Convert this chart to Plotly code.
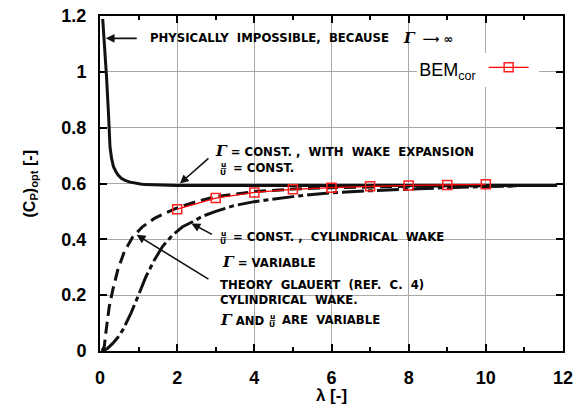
import plotly.graph_objects as go

# Tip speed ratio (lambda) and optimum power coefficient curves
lam_wake_exp = [0.07, 0.12, 0.17, 0.22, 0.26, 0.30, 0.35, 0.41, 0.47, 0.56, 0.65, 0.78,
                0.91, 1.05, 1.17, 1.5, 2.0, 4.0, 6.0, 8.0, 10.0, 11.85]
cp_wake_exp = [1.19, 1.09, 0.98, 0.85, 0.73, 0.69, 0.66, 0.643, 0.63, 0.618, 0.611, 0.605,
               0.601, 0.598, 0.596, 0.594, 0.593, 0.593, 0.593, 0.593, 0.593, 0.593]

lam_glauert = [0.05, 0.11, 0.16, 0.24, 0.33, 0.46, 0.63, 0.85, 1.1, 1.41, 1.71, 1.97,
               2.49, 3.0, 4.0, 5.0, 6.0, 7.0, 8.0, 9.0, 10.0, 10.8]
cp_glauert = [0.0, 0.015, 0.075, 0.159, 0.218, 0.29, 0.356, 0.409, 0.445, 0.475, 0.495, 0.511,
              0.535, 0.553, 0.571, 0.580, 0.585, 0.588, 0.590, 0.591, 0.592, 0.592]

lam_cyl = [0.07, 0.2, 0.33, 0.46, 0.59, 0.8, 0.98, 1.19, 1.41, 1.62, 1.88, 2.14, 2.4,
           2.66, 3.0, 3.45, 4.0, 4.5, 5.0, 5.5, 6.0, 7.0, 8.0, 9.0, 10.0, 10.8]
cp_cyl = [0.0, 0.01, 0.027, 0.048, 0.075, 0.135, 0.194, 0.266, 0.326, 0.374, 0.415, 0.445, 0.463,
          0.483, 0.50, 0.52, 0.535, 0.545, 0.553, 0.561, 0.567, 0.574, 0.580, 0.585, 0.589, 0.591]

lam_bem = [2, 3, 4, 5, 6, 7, 8, 9, 10]
cp_bem = [0.508, 0.548, 0.568, 0.579, 0.585, 0.590, 0.593, 0.595, 0.597]

x_ticks = [0, 2, 4, 6, 8, 10, 12]
y_ticks = [0, 0.2, 0.4, 0.6, 0.8, 1.0, 1.2]
x_range = [x_ticks[0], x_ticks[-1]]
y_range = [y_ticks[0], y_ticks[-1]]

fig = go.Figure()

fig.add_trace(go.Scatter(x=lam_wake_exp, y=cp_wake_exp, mode="lines", showlegend=False,
                         line=dict(color="#111111", width=3)))
fig.add_trace(go.Scatter(x=lam_glauert, y=cp_glauert, mode="lines", showlegend=False,
                         line=dict(color="#111111", width=3, dash="12px,6px")))
fig.add_trace(go.Scatter(x=lam_cyl, y=cp_cyl, mode="lines", showlegend=False,
                         line=dict(color="#111111", width=3, dash="22px,4px,5px,4px")))
fig.add_trace(go.Scatter(x=lam_bem, y=cp_bem, mode="lines+markers", name="",
                         line=dict(color="#ff0000", width=1.3),
                         marker=dict(symbol="square-open", size=9, color="#ff2020",
                                     line=dict(width=1.5, color="#ff2020"))))

TXT = dict(family="DejaVu Sans", size=11.7, color="black", weight="bold")
GAM = '<span style="font-family:\'DejaVu Serif\';font-size:15px;font-weight:bold"><i>Γ</i></span>'
FRAC = dict(family="DejaVu Sans", size=7.5, color="black", weight="bold")

notes = [
    # (x, y, text)
    (1.24, 1.121, "PHYSICALLY\u00a0 IMPOSSIBLE,\u00a0 BECAUSE"),
    (7.8, 1.121, GAM + "\u00a0 ⟶ ∞"),
    (2.93, 0.715, GAM + " = CONST. ,\u00a0 WITH\u00a0 WAKE\u00a0 EXPANSION"),
    (3.40, 0.655, "= CONST."),
    (3.40, 0.408, "= CONST. ,\u00a0 CYLINDRICAL\u00a0 WAKE"),
    (3.11, 0.319, GAM + " = VARIABLE"),
    (3.06, 0.236, "THEORY\u00a0 GLAUERT\u00a0 (REF.\u00a0 C.\u00a0 4)"),
    (3.06, 0.183, "CYLINDRICAL\u00a0 WAKE."),
    (3.06, 0.111, GAM + " AND"),
    (4.66, 0.111, "ARE\u00a0 VARIABLE"),
]
annotations = []
for x, y, t in notes:
    annotations.append(dict(x=x, y=y, xref="x", yref="y", text=t, showarrow=False,
                            xanchor="left", yanchor="middle", font=TXT))

# stacked u/U fractions: numerator above the bar, denominator below
for x, y in [(3.2, 0.652), (3.2, 0.408), (4.47, 0.111)]:
    annotations.append(dict(x=x, y=y, xref="x", yref="y", text="<u>u</u>", showarrow=False,
                            xanchor="center", yanchor="middle", yshift=4, font=FRAC))
    annotations.append(dict(x=x, y=y, xref="x", yref="y", text="U", showarrow=False,
                            xanchor="center", yanchor="middle", yshift=-4, font=FRAC))

# pointer arrows (tip, tail)
arrows = [((0.15, 1.12), (0.99, 1.12)),
          ((2.07, 0.600), (2.85, 0.695)),
          ((2.37, 0.457), (2.94, 0.415)),
          ((0.95, 0.416), (2.85, 0.254))]
for (tx, ty), (sx, sy) in arrows:
    annotations.append(dict(x=tx, y=ty, ax=sx, ay=sy, xref="x", yref="y", axref="x", ayref="y",
                            text="", showarrow=True, arrowhead=2, arrowsize=1.1,
                            arrowwidth=1.6, arrowcolor="#111111"))

# y-axis title
annotations.append(dict(x=0, y=0.5, xref="paper", yref="paper", xshift=-70,
                        text="(C<sub>P</sub>)<sub>opt</sub> [-]", textangle=-90, showarrow=False,
                        xanchor="center", yanchor="middle",
                        font=dict(family="Liberation Sans", size=16, color="black", weight="bold")))

axis_common = dict(showline=True, linecolor="black", linewidth=2, mirror="ticks",
                   ticks="inside", ticklen=7, tickwidth=1.5, tickcolor="black",
                   showgrid=True, gridcolor="#a8a8a8", gridwidth=1,
                   zeroline=False, automargin=False, layer="below traces",
                   tickfont=dict(family="Liberation Sans", size=18, color="black", weight="bold"))

fig.update_layout(
    width=587, height=405,
    margin=dict(l=100, r=24, t=16, b=54, autoexpand=False),
    paper_bgcolor="white", plot_bgcolor="white",
    xaxis=dict(range=x_range, tickvals=x_ticks, ticklabelstandoff=9,
               minor=dict(dtick=1, ticks="inside", ticklen=4, tickcolor="black", showgrid=False),
               title=dict(text="λ [-]", standoff=14,
                          font=dict(family="Liberation Sans", size=17, color="black", weight="bold")),
               **axis_common),
    yaxis=dict(range=y_range, tickvals=y_ticks, ticklabelstandoff=8, **axis_common),
    legend=dict(x=0.685, y=0.89, xanchor="left", yanchor="top", bgcolor="white",
                borderwidth=0, itemwidth=40,
                title=dict(text="BEM<sub>cor</sub>", side="left",
                           font=dict(family="Liberation Sans", size=18, color="black"))),
    annotations=annotations,
)

fig.write_html("out.html")
